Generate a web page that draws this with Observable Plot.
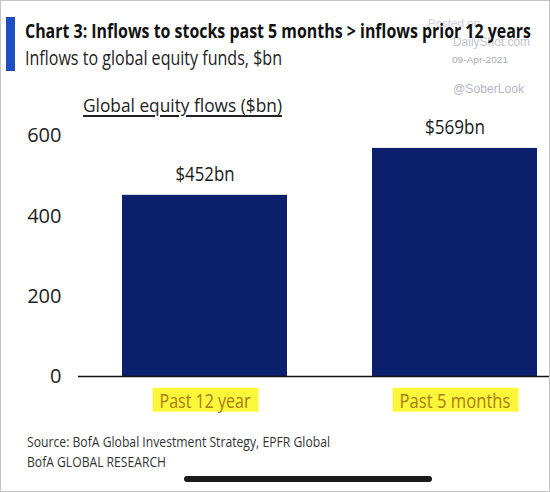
<!DOCTYPE html>
<html><head><meta charset="utf-8">
<script src="https://cdn.jsdelivr.net/npm/d3@7"></script>
<script src="https://cdn.jsdelivr.net/npm/@observablehq/plot@0.6"></script>
<style>
body{margin:0;background:#fff;}
#wrap{position:relative;width:550px;height:492px;overflow:hidden;background:#fff;}
#frame{position:absolute;left:0;top:0;width:548px;height:490px;border:1px solid #c4c4c4;pointer-events:none;}
.t{position:absolute;white-space:nowrap;transform-origin:0 0;}
#chart{position:absolute;left:0;top:80px;}
</style></head><body>
<div id="wrap"><div id="chart"></div></div>
<script>
// ---- data ----
const categories = ["Past 12 year", "Past 5 months"];
const flows = [452, 569];
const valueLabels = ["$452bn", "$569bn"];
const yTicks = [0, 200, 400, 600];
const titleText = "Chart 3: Inflows to stocks past 5 months > inflows prior 12 years";
const subtitleText = "Inflows to global equity funds, $bn";
const chartTitleText = "Global equity flows ($bn)";
const sourceText = "Source:  BofA Global Investment Strategy, EPFR Global";
const brandText = "BofA GLOBAL RESEARCH";

const data = categories.map((c, i) => ({category: c, flow: flows[i], label: valueLabels[i]}));
const wrap = document.getElementById("wrap");

function place(txt, o) {
  const d = document.createElement("div");
  d.className = "t";
  d.textContent = txt;
  d.style.font = `${o.weight || 400} ${o.size}px ${o.family || '"Open Sans"'}`;
  d.style.lineHeight = "1";
  d.style.color = o.color || "#222";
  d.style.left = o.x + "px";
  d.style.top = (o.base - (o.asc || 0.888) * o.size) + "px";
  if (o.underline) { d.style.textDecoration = "underline"; d.style.textDecorationThickness = "1.5px"; d.style.textUnderlineOffset = "3px"; }
  wrap.appendChild(d);
  if (o.w) {
    const w = d.getBoundingClientRect().width;
    d.style.transform = `scaleX(${o.w / w})`;
  }
  return d;
}

// blue accent bar
const acc = document.createElement("div");
Object.assign(acc.style, {position: "absolute", left: "6px", top: "17px", width: "9px", height: "54px", background: "#1f4fc0"});
wrap.appendChild(acc);

// watermark (under title)
const wm = '"Liberation Sans", Arial, sans-serif';
place("Posted on", {x: 428, base: 28, size: 11.5, family: wm, asc: 0.8465, color: "#cfcfd8"});
place("DailyShot.com", {x: 453, base: 47, size: 12.5, family: wm, asc: 0.8465, color: "#c2c2cc", w: 77});
place("09-Apr-2021", {x: 452, base: 63, size: 9.5, family: wm, asc: 0.8465, color: "#a9a9b3", w: 56});
place("@SoberLook", {x: 453, base: 93, size: 13.5, family: wm, asc: 0.8465, color: "#b6b6c6", w: 71});

place(titleText, {x: 25, base: 39, size: 20, weight: 700, color: "#111", w: 506});
place(subtitleText, {x: 25, base: 66, size: 20, weight: 400, color: "#222", w: 257});
place(chartTitleText, {x: 83, base: 113, size: 19, color: "#222", w: 199, underline: true});
place(sourceText, {x: 27, base: 447, size: 14, color: "#333", w: 303});
place(brandText, {x: 27, base: 467, size: 14, color: "#333", w: 139});

// home indicator bar
const hb = document.createElement("div");
Object.assign(hb.style, {position: "absolute", left: "184px", top: "476px", width: "248px", height: "6px", borderRadius: "3px", background: "#1a1a1a"});
wrap.appendChild(hb);

const frame = document.createElement("div");
frame.id = "frame";
wrap.appendChild(frame);

// ---- chart ----
const chart = Plot.plot({
  width: 550,
  height: 345,
  marginTop: 55.5,
  marginBottom: 49,
  marginLeft: 78,
  marginRight: 0,
  style: {fontFamily: '"Open Sans", sans-serif', background: "transparent", fontSize: "20px", color: "#222"},
  x: {type: "band", domain: categories, paddingInner: 0.3386, paddingOuter: 0.1096, align: 0.78, axis: null},
  y: {domain: [0, 600], axis: null},
  marks: [
    Plot.barY(data, {x: "category", y: "flow", fill: "#0c1f6c"}),
    Plot.ruleY([0], {stroke: "#111", strokeWidth: 1.6}),
    Plot.axisY({ticks: yTicks, tickSize: 0, tickPadding: 17, fontSize: 20, color: "#222", label: null}),
    Plot.text(data, {x: "category", y: "flow", text: "label", dy: -14, lineAnchor: "bottom", fontSize: 20, fill: "#1a1a1a"}),
    Plot.text(data, {x: "category", text: "category", frameAnchor: "bottom", lineAnchor: "top", dy: 17, fontSize: 20, fill: "#ad7a0e"})
  ]
});
document.getElementById("chart").appendChild(chart);

// the two text marks, in order: value labels, category labels
const textGroups = chart.querySelectorAll('g[aria-label="text"]');
const valueGroup = textGroups[0];
const xGroup = textGroups[1];

// condense text to the reference's narrow font widths
const svgNS = "http://www.w3.org/2000/svg";
function condense(g, widths) {
  if (!g) return;
  g.querySelectorAll("text").forEach((t, i) => {
    t.setAttribute("textLength", widths[i]);
    t.setAttribute("lengthAdjust", "spacingAndGlyphs");
  });
}
condense(valueGroup, [59, 60]);
condense(xGroup, [91, 111]);

// yellow highlight behind category labels
if (xGroup) {
  xGroup.querySelectorAll("text").forEach(t => {
    const b = t.getBBox();
    const r = document.createElementNS(svgNS, "rect");
    r.setAttribute("x", b.x - 7);
    r.setAttribute("y", b.y + 1);
    r.setAttribute("width", b.width + 15);
    r.setAttribute("height", b.height - 3);
    r.setAttribute("fill", "#fbf83c");
    const tf = t.getAttribute("transform");
    if (tf) r.setAttribute("transform", tf);
    xGroup.insertBefore(r, xGroup.firstChild);
  });
}
</script>
</body></html>
